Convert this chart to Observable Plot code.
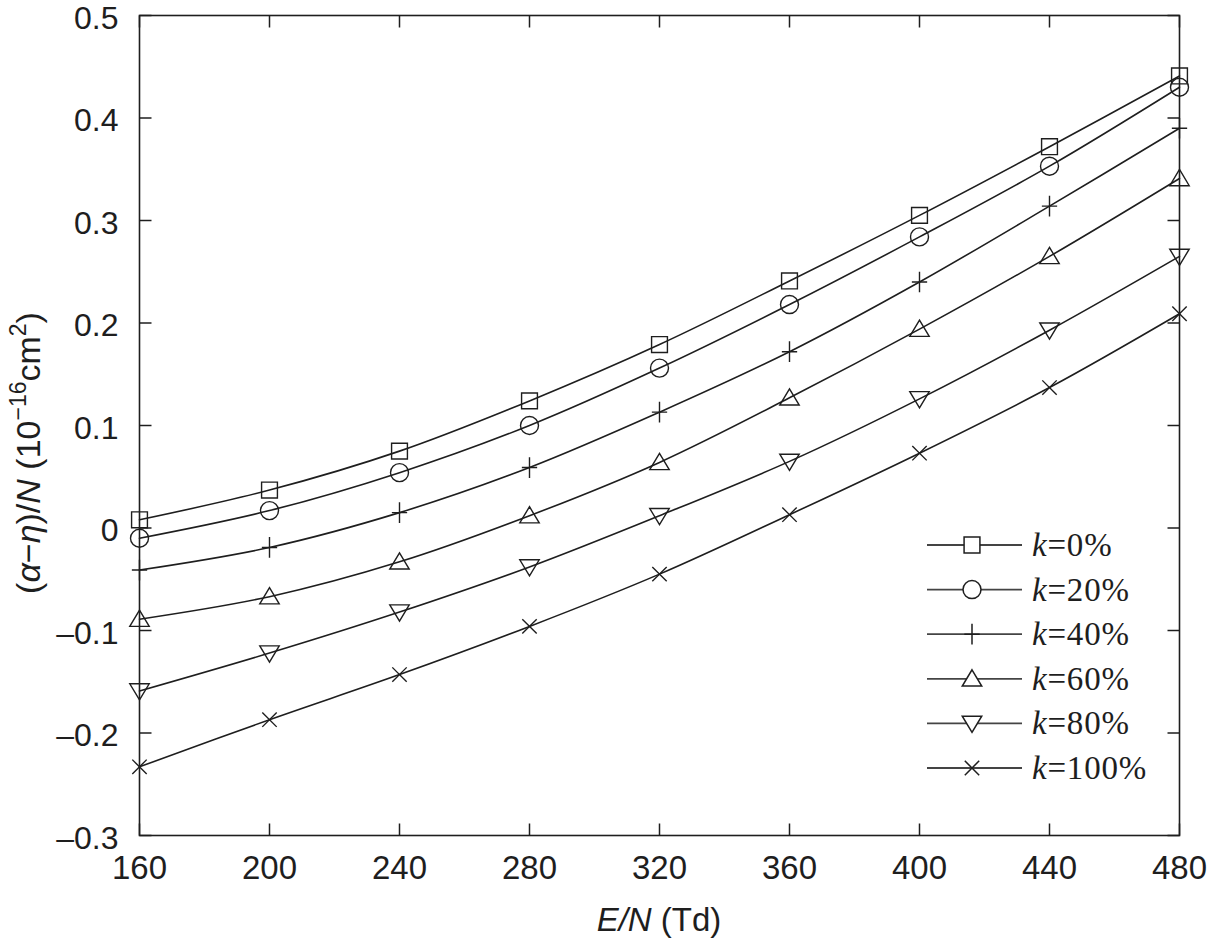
<!DOCTYPE html>
<html>
<head>
<meta charset="utf-8">
<script src="https://cdn.jsdelivr.net/npm/d3@7"></script>
<script src="https://cdn.jsdelivr.net/npm/@observablehq/plot@0.6"></script>
<style>
  html, body { margin: 0; padding: 0; background: #fff; }
  #chart { position: relative; width: 1209px; height: 946px; }
</style>
</head>
<body>
<div id="chart"></div>
<script>
// ---- data ----
const EN = [160, 200, 240, 280, 320, 360, 400, 440, 480];
const seriesNames = ["k=0%", "k=20%", "k=40%", "k=60%", "k=80%", "k=100%"];
const k0   = [0.008, 0.037, 0.075, 0.124, 0.179, 0.241, 0.305, 0.372, 0.441];
const k20  = [-0.010, 0.017, 0.054, 0.100, 0.156, 0.218, 0.284, 0.353, 0.430];
const k40  = [-0.041, -0.019, 0.015, 0.059, 0.113, 0.172, 0.240, 0.314, 0.390];
const k60  = [-0.089, -0.067, -0.033, 0.012, 0.064, 0.127, 0.194, 0.265, 0.341];
const k80  = [-0.159, -0.122, -0.082, -0.038, 0.012, 0.065, 0.126, 0.193, 0.265];
const k100 = [-0.233, -0.187, -0.143, -0.096, -0.045, 0.013, 0.073, 0.137, 0.209];
const seriesValues = [k0, k20, k40, k60, k80, k100];
const xTicks = [160, 200, 240, 280, 320, 360, 400, 440, 480];
const yTicks = [-0.3, -0.2, -0.1, 0, 0.1, 0.2, 0.3, 0.4, 0.5];

// ---- symbols ----
const rad = s => Math.sqrt(s / Math.PI);
const symSquare = { draw(c, s) { const r = rad(s) * 0.88; c.rect(-r, -r, 2 * r, 2 * r); } };
const symCircle = { draw(c, s) { const r = rad(s); c.moveTo(r, 0); c.arc(0, 0, r, 0, 2 * Math.PI); } };
const symPlus = { draw(c, s) { const r = rad(s); c.moveTo(0, -r * 1.15); c.lineTo(0, r * 1.15); c.moveTo(-r * 0.85, 0); c.lineTo(r * 0.85, 0); } };
const symTriUp = { draw(c, s) { const r = rad(s); c.moveTo(0, -r * 1.0); c.lineTo(r * 1.08, r * 0.8); c.lineTo(-r * 1.08, r * 0.8); c.closePath(); } };
const symTriDown = { draw(c, s) { const r = rad(s); c.moveTo(0, r * 1.0); c.lineTo(r * 1.08, -r * 0.8); c.lineTo(-r * 1.08, -r * 0.8); c.closePath(); } };
const symTimes = { draw(c, s) { const r = rad(s) * 0.8; c.moveTo(-r, -r); c.lineTo(r, r); c.moveTo(-r, r); c.lineTo(r, -r); } };
const symbols = [symSquare, symCircle, symPlus, symTriUp, symTriDown, symTimes];

// tick symbols (inward ticks)
const TL = 12;
const tickUp = { draw(c) { c.moveTo(0, 0); c.lineTo(0, -TL); } };
const tickDown = { draw(c) { c.moveTo(0, 0); c.lineTo(0, TL); } };
const tickRight = { draw(c) { c.moveTo(0, 0); c.lineTo(TL, 0); } };
const tickLeft = { draw(c) { c.moveTo(0, 0); c.lineTo(-TL, 0); } };

const table = seriesNames.flatMap((name, i) => EN.map((e, j) => ({ series: name, E: e, v: seriesValues[i][j] })));

const fmtY = d => d < 0 ? "\u2013" + Math.abs(d) : String(d);
const ink = "#1e1e1e";

const marks = [
  Plot.frame({ stroke: ink, strokeWidth: 1.6 }),
  Plot.axisX({ ticks: xTicks, tickSize: 0, tickPadding: 20, label: null }),
  Plot.axisY({ ticks: yTicks, tickSize: 0, tickPadding: 21, label: null, tickFormat: fmtY, fontSize: 32, dy: 3 }),
  Plot.dot(xTicks, { x: d => d, frameAnchor: "bottom", symbol: tickUp, stroke: ink, strokeWidth: 1.5 }),
  Plot.dot(xTicks, { x: d => d, frameAnchor: "top", symbol: tickDown, stroke: ink, strokeWidth: 1.5 }),
  Plot.dot(yTicks, { y: d => d, frameAnchor: "left", symbol: tickRight, stroke: ink, strokeWidth: 1.5 }),
  Plot.dot(yTicks, { y: d => d, frameAnchor: "right", symbol: tickLeft, stroke: ink, strokeWidth: 1.5 })
];
seriesNames.forEach((name, i) => {
  const d = table.filter(r => r.series === name);
  marks.push(Plot.line(d, { x: "E", y: "v", curve: "catmull-rom", stroke: ink, strokeWidth: 1.6 }));
  marks.push(Plot.dot(d, { x: "E", y: "v", symbol: symbols[i], r: 9, stroke: ink, strokeWidth: 1.4, fill: "none" }));
});

const plot = Plot.plot({
  width: 1209,
  height: 946,
  marginTop: 15,
  marginBottom: 111,
  marginLeft: 139,
  marginRight: 30,
  x: { domain: [160, 480] },
  y: { domain: [-0.3, 0.5] },
  style: { fontFamily: "'Liberation Sans', Arial, sans-serif", fontSize: "33px", color: ink, background: "#fff" },
  marks
});
document.getElementById("chart").appendChild(plot);

// ---- axis labels & legend ----
const svg = d3.select(plot);
const sans = "'Liberation Sans', Arial, sans-serif";

// x label
const xl = svg.append("text")
  .attr("x", 659).attr("y", 931)
  .attr("text-anchor", "middle")
  .attr("font-family", sans).attr("font-size", 33).attr("fill", ink);
xl.append("tspan").attr("font-style", "italic").text("E/N");
xl.append("tspan").text(" (Td)");

// y label
const yl = svg.append("text")
  .attr("transform", "translate(40,453) rotate(-90)")
  .attr("text-anchor", "middle")
  .attr("font-family", sans).attr("font-size", 34).attr("fill", ink);
yl.append("tspan").text("(");
yl.append("tspan").attr("font-style", "italic").text("\u03b1");
yl.append("tspan").text("\u2212");
yl.append("tspan").attr("font-style", "italic").text("\u03b7");
yl.append("tspan").text(")/");
yl.append("tspan").attr("font-style", "italic").text("N");
yl.append("tspan").text(" (10");
yl.append("tspan").attr("font-size", 23).attr("dy", -14).text("\u221216");
yl.append("tspan").attr("dy", 14).text("cm");
yl.append("tspan").attr("font-size", 23).attr("dy", -14).text("2");
yl.append("tspan").attr("dy", 14).text(")");

// legend
const lg = svg.append("g").attr("text-anchor", "start");
seriesNames.forEach((name, i) => {
  const y = 545 + i * 44.6;
  lg.append("line").attr("x1", 927).attr("x2", 1022).attr("y1", y).attr("y2", y)
    .attr("stroke", "#444").attr("stroke-width", 1.8);
  lg.append("path").attr("d", d3.symbol(symbols[i], Math.PI * 81)())
    .attr("transform", `translate(972,${y})`)
    .attr("fill", "#fff").attr("stroke", ink).attr("stroke-width", 1.5);
  const t = lg.append("text").attr("x", 1032).attr("y", y + 11)
    .attr("text-anchor", "start")
    .attr("font-family", "'Liberation Serif', 'Times New Roman', serif").attr("font-size", 33)
    .attr("letter-spacing", 0.8).attr("fill", ink);
  const parts = name.split("=");
  t.append("tspan").attr("font-style", "italic").text(parts[0]);
  t.append("tspan").text("=" + parts[1]);
});
</script>
</body>
</html>
